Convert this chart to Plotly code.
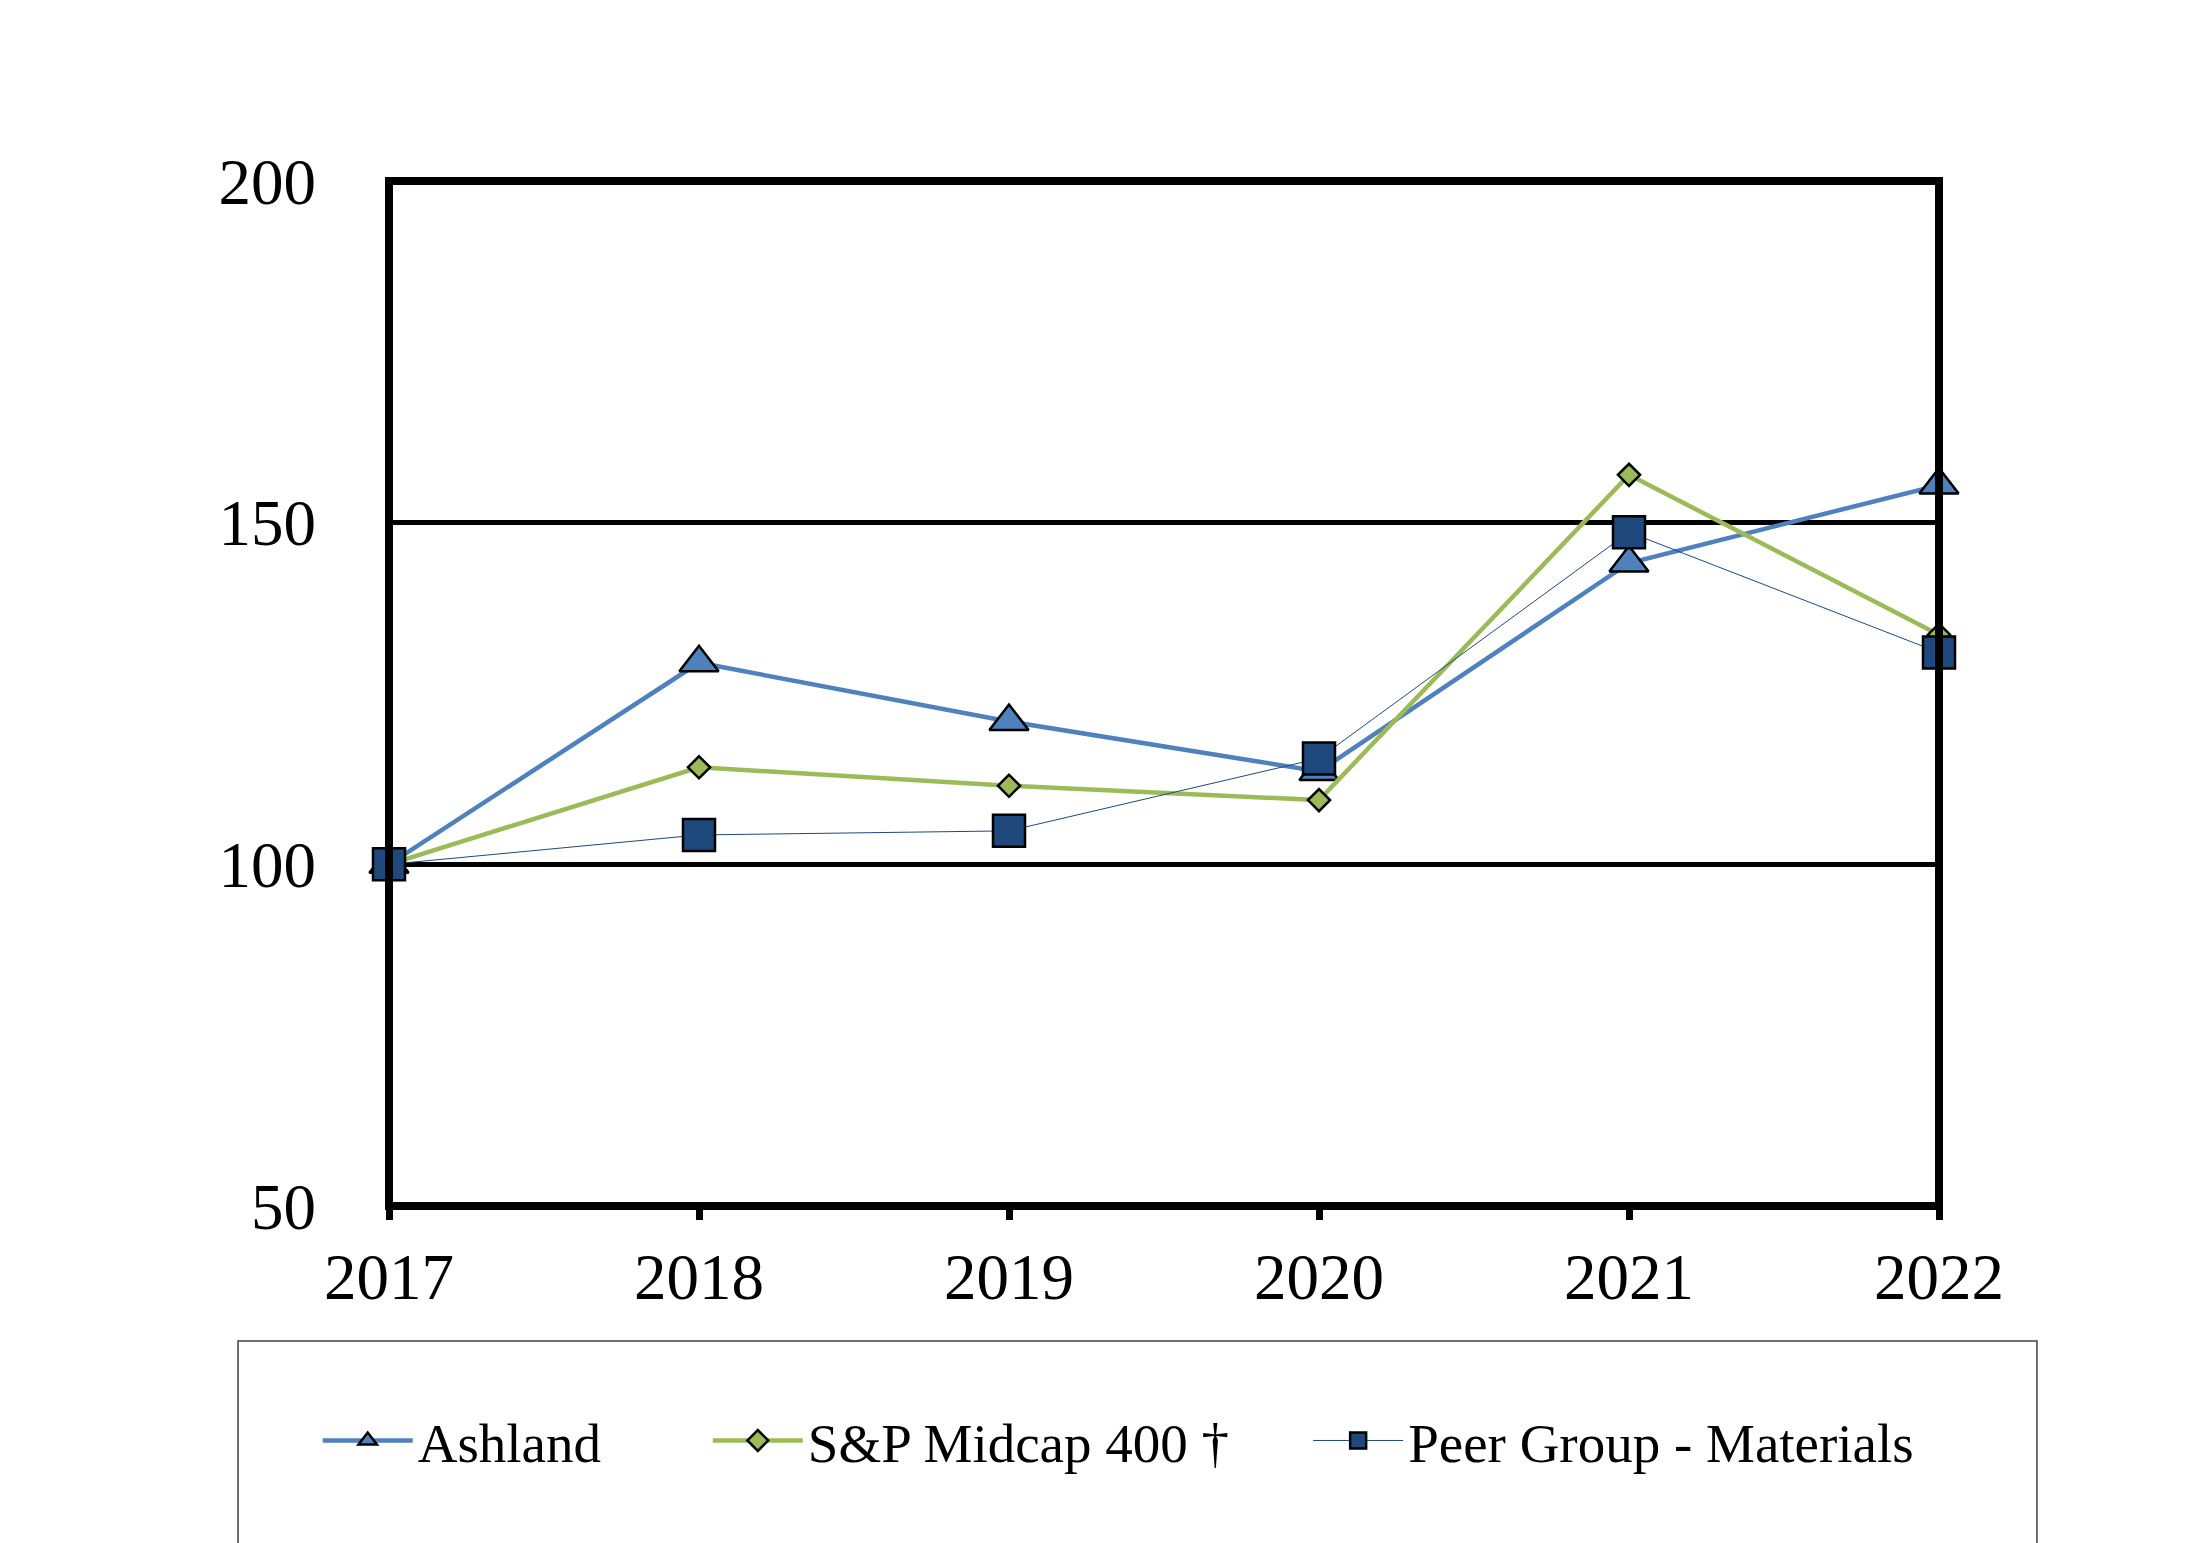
import plotly.graph_objects as go

years = [2017, 2018, 2019, 2020, 2021, 2022]
ashland = [100, 129.5, 120.9, 113.6, 144.1, 155.5]
sp_midcap = [100, 114.2, 111.5, 109.4, 157.0, 133.6]
peer_group = [100, 104.3, 104.9, 115.5, 148.6, 131.0]

y_ticks = [50, 100, 150, 200]
names = ["Ashland", "S&P Midcap 400 \u2020", "Peer Group - Materials"]

FONT = "Liberation Serif"

fig = go.Figure()
fig.add_trace(go.Scatter(
    x=years, y=ashland, name=names[0], mode="lines+markers",
    line=dict(color="#4F81BD", width=4.5),
    marker=dict(symbol="triangle-up", size=34, color="#4F81BD",
                line=dict(color="black", width=2.5)),
    cliponaxis=False, legend="legend"))
fig.add_trace(go.Scatter(
    x=years, y=sp_midcap, name=names[1], mode="lines+markers",
    line=dict(color="#9BBB59", width=4.5),
    marker=dict(symbol="diamond", size=17, color="#9BBB59",
                line=dict(color="black", width=2.5)),
    cliponaxis=False, legend="legend2"))
fig.add_trace(go.Scatter(
    x=years, y=peer_group, name=names[2], mode="lines+markers",
    line=dict(color="#1F497D", width=1),
    marker=dict(symbol="square", size=32, color="#1F497D",
                line=dict(color="black", width=2.5)),
    cliponaxis=False, legend="legend3"))

leg_common = dict(orientation="h", xanchor="left", yanchor="middle",
                  font=dict(family=FONT, size=55, color="black"),
                  bgcolor="rgba(0,0,0,0)", borderwidth=0, itemwidth=90,
                  itemsizing="trace")

fig.update_layout(
    width=2186, height=1543,
    margin=dict(l=381, r=255, t=173, b=345),
    paper_bgcolor="white", plot_bgcolor="white",
    font=dict(family=FONT, color="black"),
    showlegend=True,
    legend=dict(x=-0.046, y=-0.229, **leg_common),
    legend2=dict(x=0.2057, y=-0.229, **leg_common),
    legend3=dict(x=0.593, y=-0.229, **leg_common),
    xaxis=dict(range=[2017, 2022], tickvals=years, ticktext=[str(y) for y in years],
               showgrid=False, zeroline=False, showline=False,
               ticks="outside", ticklen=13, tickwidth=7, tickcolor="black",
               tickfont=dict(family=FONT, size=65, color="black"),
               ticklabelstandoff=1),
    yaxis=dict(range=[50, 200], tickvals=y_ticks,
               showgrid=True, gridcolor="black", gridwidth=4.5,
               zeroline=False, showline=False, ticks="",
               tickfont=dict(family=FONT, size=65, color="black"),
               ticklabelstandoff=72),
    shapes=[
        dict(type="rect", xref="paper", yref="paper", x0=0, x1=1, y0=0, y1=1,
             line=dict(color="black", width=8), layer="above"),
        dict(type="rect", xref="paper", yref="paper", x0=-0.0974, x1=1.0632,
             y0=-0.4, y1=-0.1317, line=dict(color="#404040", width=1.5),
             layer="below"),
    ],
)

fig.write_html("out.html")
